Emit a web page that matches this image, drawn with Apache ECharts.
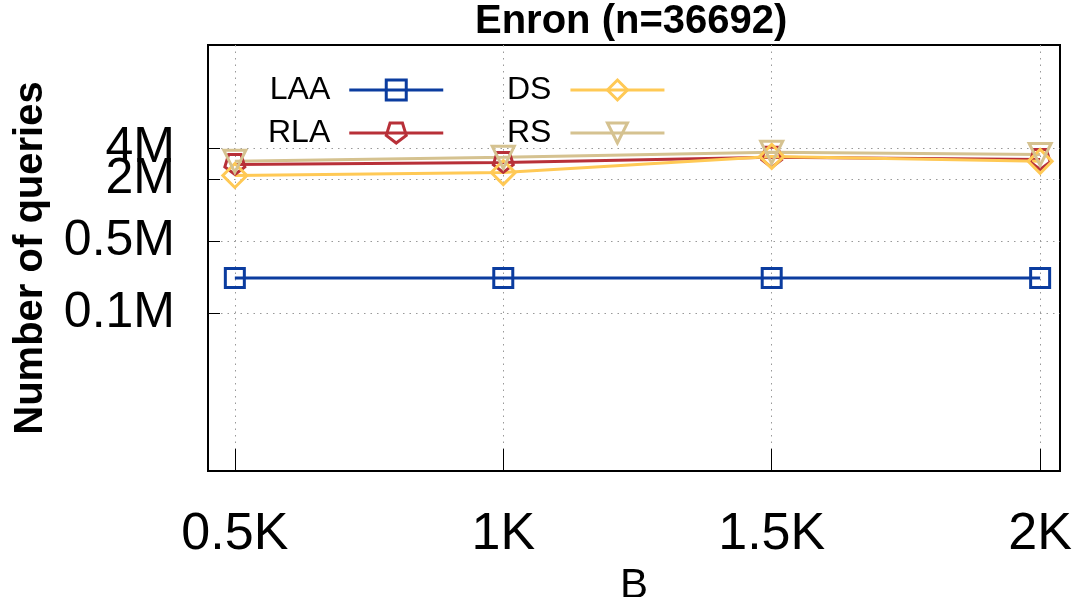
<!DOCTYPE html>
<html>
<head>
<meta charset="utf-8">
<script src="https://cdn.jsdelivr.net/npm/echarts@6/dist/echarts.min.js"></script>
<style>
html,body{margin:0;padding:0;background:#fff;}
#chart{width:1083px;height:597px;}
</style>
</head>
<body>
<div id="chart"></div>
<script>
// ---- data ----
const titleText = 'Enron (n=36692)';
const xName = 'B';
const yName = 'Number of queries';
const categories = [500, 1000, 1500, 2000];
const xTickLabels = ['0.5K', '1K', '1.5K', '2K'];
const yTickValues = [1e5, 5e5, 2e6, 4e6];
const yTickLabels = ['0.1M', '0.5M', '2M', '4M'];
const seriesNames = ['LAA', 'RLA', 'DS', 'RS'];
const laa = [220000, 220000, 220000, 220000];
const rla = [2790000, 2920000, 3270000, 3120000];
const ds  = [2180000, 2330000, 3340000, 2990000];
const rs  = [2990000, 3270000, 3660000, 3490000];

// ---- styling ----
const colors = { LAA: '#0b3c9f', RLA: '#b83038', DS: '#ffc955', RS: '#d5c290' };
const pentagon = 'path://M0,10 L9.5,3.1 L5.9,-8.1 L-5.9,-8.1 L-9.5,3.1 Z';
const symbols = {
  LAA: { symbol: 'rect', size: 19, rotate: 0 },
  RLA: { symbol: pentagon, size: 20, rotate: 0 },
  DS:  { symbol: 'diamond', size: 24, rotate: 0 },
  RS:  { symbol: 'triangle', size: 22, rotate: 180 }
};
const values = { LAA: laa, RLA: rla, DS: ds, RS: rs };
const FONT = 'Liberation Sans, Arial, sans-serif';

function pairs(arr) { return categories.map((c, i) => [c, arr[i]]); }

function labelFor(list, labels, v) {
  let best = 0, bd = Infinity;
  list.forEach((t, i) => { const d = Math.abs(Math.log(t) - Math.log(v)); if (d < bd) { bd = d; best = i; } });
  return labels[best];
}

// the 2M and 4M labels overlap in the original; split labels over two
// co-located axes so neither is hidden by overlap handling
const yLabelGroupA = yTickValues.filter((v, i) => i % 2 === 0);
const yLabelGroupB = yTickValues.filter((v, i) => i % 2 === 1);

const series = seriesNames.map(n => ({
  name: n,
  type: 'line',
  data: pairs(values[n]),
  symbol: symbols[n].symbol,
  symbolSize: symbols[n].size,
  symbolRotate: symbols[n].rotate,
  showAllSymbol: true,
  lineStyle: { color: colors[n], width: 3 },
  itemStyle: { color: 'rgba(255,255,255,0)', borderColor: colors[n], borderWidth: 3 },
  emphasis: { disabled: true },
  animation: false
}));

const legendCommon = {
  orient: 'vertical',
  align: 'right',
  top: 72,
  padding: 0,
  itemWidth: 94,
  itemHeight: 25,
  itemGap: 7,
  selectedMode: false,
  lineStyle: { width: 3 },
  itemStyle: { borderWidth: 3 },
  textStyle: { fontFamily: FONT, fontSize: 32, color: '#000', lineHeight: 36, padding: [0, 14, 0, 0] }
};

const yLabelStyle = {
  margin: 33,
  interval: 0,
  hideOverlap: false,
  showMinLabel: true, showMaxLabel: true,
  fontFamily: FONT, fontSize: 50, color: '#000',
  formatter: v => labelFor(yTickValues, yTickLabels, v)
};
const yRange = { type: 'log', logBase: 10, min: 2950, max: 40300000 };

const chart = echarts.init(document.getElementById('chart'), null, { renderer: 'canvas' });
chart.setOption({
  animation: false,
  backgroundColor: '#fff',
  title: {
    text: titleText,
    left: 475,
    top: 2,
    padding: 0,
    textStyle: { fontFamily: FONT, fontSize: 40, fontWeight: 'bold', color: '#000' }
  },
  legend: [
    Object.assign({ data: ['LAA', 'RLA'], left: 268 }, legendCommon),
    Object.assign({ data: ['DS', 'RS'], left: 507 }, legendCommon)
  ],
  grid: {
    left: 208, right: 23, top: 45, bottom: 126,
    outerBoundsMode: 'none',
    containLabel: false,
    show: true, borderColor: '#000', borderWidth: 2, backgroundColor: 'transparent'
  },
  xAxis: {
    type: 'value',
    min: 450,
    max: 2037,
    name: xName,
    nameLocation: 'middle',
    nameGap: 82,
    nameTextStyle: { fontFamily: FONT, fontSize: 42, color: '#000' },
    axisLine: { show: false },
    axisTick: { show: true, inside: true, length: 22, customValues: categories, lineStyle: { color: '#000', width: 1 } },
    axisLabel: {
      customValues: categories,
      margin: 38,
      showMinLabel: true, showMaxLabel: true,
      fontFamily: FONT, fontSize: 52, color: '#000',
      formatter: v => labelFor(categories, xTickLabels, v)
    },
    splitLine: { show: true, lineStyle: { color: '#999', width: 1, type: [1.5, 5] } }
  },
  yAxis: [
    Object.assign({
      position: 'left',
      name: yName,
      nameLocation: 'middle',
      nameGap: 157,
      nameTextStyle: { fontFamily: FONT, fontSize: 40, fontWeight: 'bold', color: '#000' },
      axisLine: { show: false },
      axisTick: { show: true, inside: true, length: 12, customValues: yTickValues, lineStyle: { color: '#000', width: 1 } },
      axisLabel: Object.assign({ customValues: yLabelGroupA }, yLabelStyle),
      splitLine: { show: true, lineStyle: { color: '#999', width: 1, type: [1.5, 5] } }
    }, yRange),
    Object.assign({
      position: 'left',
      axisLine: { show: false },
      axisTick: { show: false },
      axisLabel: Object.assign({ customValues: yLabelGroupB }, yLabelStyle),
      splitLine: { show: false }
    }, yRange)
  ],
  series: series
});
</script>
</body>
</html>
